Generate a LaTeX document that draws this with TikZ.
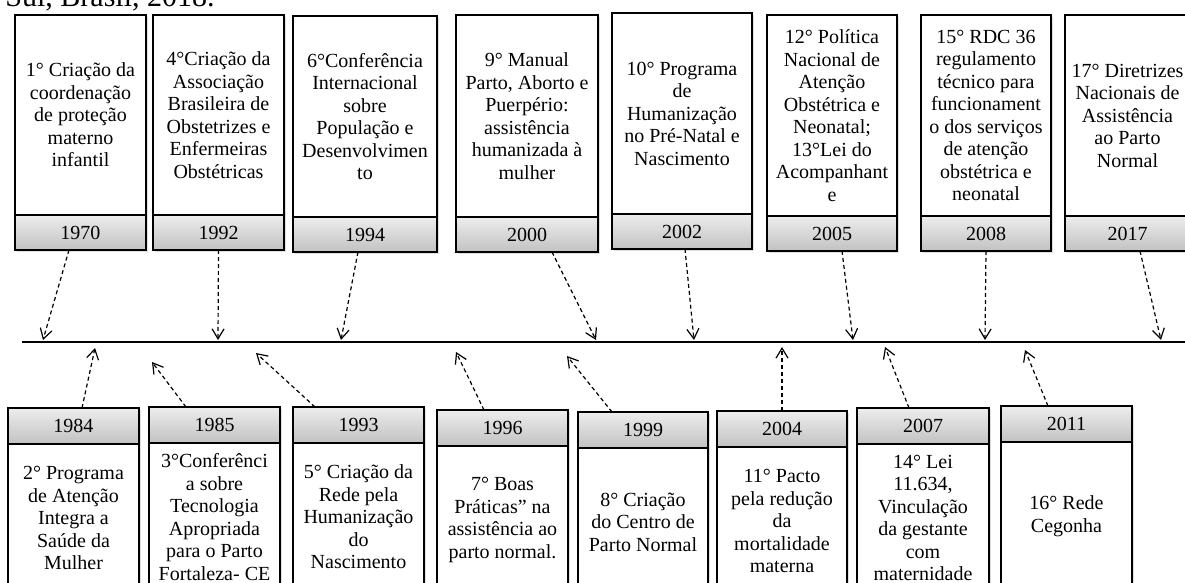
\documentclass[tikz,border=0pt]{standalone}
\usepackage{fontspec}
\setmainfont{Liberation Serif}
\usetikzlibrary{positioning,arrows.meta,shadows}

\begin{document}
\begin{tikzpicture}[x=0.5pt, y=-0.5pt,
    txtbox/.style={draw, line width=1pt, fill=white, outer sep=0pt, align=center,
        inner sep=1pt, font=\fontsize{10}{11.25}\selectfont,
        drop shadow={shadow xshift=1pt, shadow yshift=-1pt, opacity=0.25}},
    yearbox/.style={draw, line width=1pt, outer sep=0pt, minimum height=17.5pt,
        top color=black!7, bottom color=black!24, font=\fontsize{10}{11.25}\selectfont,
        drop shadow={shadow xshift=1pt, shadow yshift=-1pt, opacity=0.25}},
    link/.style={line width=0.6pt, dash pattern=on 2pt off 1.5pt,
        -{Straight Barb[length=5pt, width=6pt]}}]
\useasboundingbox (0,0) rectangle (1185,583);

% Cut caption line
\node[font=\fontsize{15}{18}\selectfont, anchor=base east, inner sep=0pt] (caption) at (215,7) {Sul, Brasil, 2018.};

% Timeline
\coordinate (tl0) at (22,342);
\coordinate (tl1) at (1190,342);
\draw[line width=0.9pt] (tl0) -- (tl1);

% Arrow ends on the timeline
\coordinate (e1970) at (43,340);
\coordinate (e1992) at (218,340);
\coordinate (e1994) at (341,340);
\coordinate (e2000) at (596,340);
\coordinate (e2002) at (694,340);
\coordinate (e2005) at (853,340);
\coordinate (e2008) at (985,340);
\coordinate (e2017) at (1161,340);
\coordinate (e1984) at (95,348);
\coordinate (e1985) at (152,362);
\coordinate (e1993) at (256,353);
\coordinate (e1996) at (456,352);
\coordinate (e1999) at (567,356);
\coordinate (e2004) at (782,347);
\coordinate (e2007) at (885,347);
\coordinate (e2011) at (1025,350);

% Top boxes
\node[txtbox, minimum width=65.5pt, minimum height=100pt, anchor=north west] (t1970) at (15,15)
    {1° Criação da\\coordenação\\de proteção\\materno\\infantil};
\node[yearbox, minimum width=65.5pt, below=0pt of t1970] (y1970) {1970};

\node[txtbox, minimum width=65.5pt, minimum height=100pt, anchor=north west] (t1992) at (153,15)
    {4°Criação da\\Associação\\Brasileira de\\Obstetrizes e\\Enfermeiras\\Obstétricas};
\node[yearbox, minimum width=65.5pt, below=0pt of t1992] (y1992) {1992};

\node[txtbox, minimum width=72pt, minimum height=100.5pt, anchor=north west] (t1994) at (293,16)
    {6°Conferência\\Internacional\\sobre\\População e\\Desenvolvimen\\to};
\node[yearbox, minimum width=72pt, below=0pt of t1994] (y1994) {1994};

\node[txtbox, minimum width=71pt, minimum height=101pt, anchor=north west] (t2000) at (456,15)
    {9° Manual\\Parto, Aborto e\\Puerpério:\\assistência\\humanizada à\\mulher};
\node[yearbox, minimum width=71pt, below=0pt of t2000] (y2000) {2000};

\node[txtbox, minimum width=70pt, minimum height=100.5pt, anchor=north west] (t2002) at (612,13)
    {10° Programa\\de\\Humanização\\no Pré-Natal e\\Nascimento};
\node[yearbox, minimum width=70pt, below=0pt of t2002] (y2002) {2002};

\node[txtbox, minimum width=65pt, minimum height=100.5pt, anchor=north west] (t2005) at (767,15)
    {12° Política\\Nacional de\\Atenção\\Obstétrica e\\Neonatal;\\13°Lei do\\Acompanhant\\e};
\node[yearbox, minimum width=65pt, below=0pt of t2005] (y2005) {2005};

\node[txtbox, minimum width=65pt, minimum height=100.5pt, anchor=north west] (t2008) at (921,15)
    {15° RDC 36\\regulamento\\técnico para\\funcionament\\o dos serviços\\de atenção\\obstétrica e\\neonatal};
\node[yearbox, minimum width=65pt, below=0pt of t2008] (y2008) {2008};

\node[txtbox, minimum width=62.5pt, minimum height=100.5pt, anchor=north west] (t2017) at (1065,15)
    {17° Diretrizes\\Nacionais de\\Assistência\\ao Parto\\Normal};
\node[yearbox, minimum width=62.5pt, below=0pt of t2017] (y2017) {2017};

% Bottom boxes
\node[yearbox, minimum width=65.5pt, minimum height=18pt, anchor=north west] (y1984) at (8,408) {1984};
\node[txtbox, minimum width=65.5pt, minimum height=74pt, below=0pt of y1984] (t1984)
    {2° Programa\\de Atenção\\Integra a\\Saúde da\\Mulher};

\node[yearbox, minimum width=65.5pt, minimum height=18pt, anchor=north west] (y1985) at (149,407) {1985};
\node[txtbox, minimum width=65.5pt, minimum height=74pt, below=0pt of y1985] (t1985)
    {3°Conferênci\\a sobre\\Tecnologia\\Apropriada\\para o Parto\\Fortaleza- CE};

\node[yearbox, minimum width=65.5pt, minimum height=18pt, anchor=north west] (y1993) at (293,407) {1993};
\node[txtbox, minimum width=65.5pt, minimum height=74pt, below=0pt of y1993] (t1993)
    {5° Criação da\\Rede pela\\Humanização\\do\\Nascimento};

\node[yearbox, minimum width=65.5pt, minimum height=18pt, anchor=north west] (y1996) at (437,410) {1996};
\node[txtbox, minimum width=65.5pt, minimum height=74pt, below=0pt of y1996] (t1996)
    {7° Boas\\Práticas” na\\assistência ao\\parto normal.};

\node[yearbox, minimum width=65pt, minimum height=18pt, anchor=north west] (y1999) at (578,412) {1999};
\node[txtbox, minimum width=65pt, minimum height=74pt, below=0pt of y1999] (t1999)
    {8° Criação\\do Centro de\\Parto Normal};

\node[yearbox, minimum width=65pt, minimum height=18pt, anchor=north west] (y2004) at (717,411) {2004};
\node[txtbox, minimum width=65pt, minimum height=74pt, below=0pt of y2004] (t2004)
    {11° Pacto\\pela redução\\da\\mortalidade\\materna};

\node[yearbox, minimum width=66pt, minimum height=18pt, anchor=north west] (y2007) at (857,408) {2007};
\node[txtbox, minimum width=66pt, minimum height=74pt, below=0pt of y2007] (t2007)
    {14° Lei\\11.634,\\Vinculação\\da gestante\\com\\maternidade};

\node[yearbox, minimum width=65.5pt, minimum height=18pt, anchor=north west] (y2011) at (1001,406) {2011};
\node[txtbox, minimum width=65.5pt, minimum height=74pt, below=0pt of y2011] (t2011)
    {16° Rede\\Cegonha};

% Dashed links, top row
\draw[link] ([xshift=-5.75pt]y1970.south) -- (e1970);
\draw[link] (y1992.south) -- (e1992);
\draw[link] ([xshift=-3.5pt]y1994.south) -- (e1994);
\draw[link] ([xshift=12.5pt]y2000.south) -- (e2000);
\draw[link] ([xshift=1.5pt]y2002.south) -- (e2002);
\draw[link] ([xshift=5pt]y2005.south) -- (e2005);
\draw[link] (y2008.south) -- (e2008);
\draw[link] ([xshift=6.25pt]y2017.south) -- (e2017);

% Dashed links, bottom row
\draw[link] ([xshift=4.25pt]y1984.north) -- (e1984);
\draw[link] ([xshift=-14.25pt]y1985.north) -- (e1985);
\draw[link] ([xshift=-21.75pt]y1993.north) -- (e1993);
\draw[link] ([xshift=-9.25pt]y1996.north) -- (e1996);
\draw[link] ([xshift=-15.5pt]y1999.north) -- (e1999);
\draw[link] (y2004.north) -- (e2004);
\draw[link] ([xshift=-7pt]y2007.north) -- (e2007);
\draw[link] ([xshift=-9.25pt]y2011.north) -- (e2011);
\end{tikzpicture}
\end{document}
